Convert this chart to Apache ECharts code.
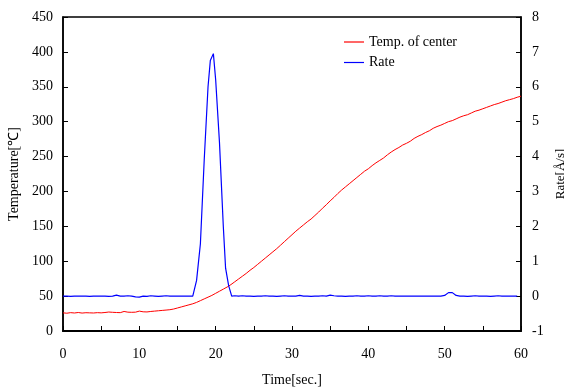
<!DOCTYPE html>
<html>
<head>
<meta charset="utf-8">
<script src="https://cdn.jsdelivr.net/npm/echarts@6/dist/echarts.min.js"></script>
<style>html,body{margin:0;padding:0;background:#fff}#c{width:564px;height:387px}</style>
</head>
<body>
<div id="c"></div>
<script>
const tempTime = [0,0.5,1,1.5,2,2.5,3,3.5,4,4.5,5,5.5,6,6.5,7,7.5,8,8.5,9,9.5,10,10.5,11,11.5,12,12.5,13,13.5,14,14.5,15,15.5,16,16.5,17,17.5,18,18.5,19,19.5,20,20.5,21,21.5,22,22.5,23,23.5,24,24.5,25,25.5,26,26.5,27,27.5,28,28.5,29,29.5,30,30.5,31,31.5,32,32.5,33,33.5,34,34.5,35,35.5,36,36.5,37,37.5,38,38.5,39,39.5,40,40.5,41,41.5,42,42.5,43,43.5,44,44.5,45,45.5,46,46.5,47,47.5,48,48.5,49,49.5,50,50.5,51,51.5,52,52.5,53,53.5,54,54.5,55,55.5,56,56.5,57,57.5,58,58.5,59,59.5,60];
const tempValue = [26.0,25.5,26.3,25.8,26.5,25.7,26.2,26.0,25.8,26.3,26.0,26.5,27.2,26.8,26.5,26.3,28.0,27.0,26.8,27.0,28.5,27.5,27.3,28.0,28.5,29.0,29.5,30.0,30.5,31.5,33.0,34.5,36.0,37.5,39.0,41.0,43.5,46.0,48.5,51.0,54.0,57.0,60.0,63.0,66.5,70.5,74.5,78.5,82.5,87.0,91.0,95.5,100.0,104.5,109.0,113.5,118.0,123.0,128.0,133.0,138.0,143.0,147.5,152.0,156.5,160.5,165.5,170.5,176.0,181.0,186.5,191.5,197.0,202.0,206.5,211.0,215.5,220.0,224.5,229.0,232.5,237.0,241.0,244.5,248.0,252.5,256.5,260.0,263.0,266.5,269.0,272.0,276.0,279.0,281.5,284.5,287.0,290.5,293.0,295.0,297.5,300.0,301.5,304.0,306.5,308.5,310.0,312.5,315.0,316.5,318.5,320.5,322.5,324.5,326.0,328.0,330.0,331.5,333.0,335.0,336.5];
const rateTime = [0,0.5,1,1.5,2,2.5,3,3.5,4,4.5,5,5.5,6,6.5,7,7.5,8,8.5,9,9.5,10,10.5,11,11.5,12,12.5,13,13.5,14,14.5,15,15.5,16,16.5,17,17.1,17.5,18,18.5,19,19.3,19.7,20,20.5,21,21.3,21.7,22.1,22.5,23,23.5,24,24.5,25,25.5,26,26.5,27,27.5,28,28.5,29,29.5,30,30.5,31,31.5,32,32.5,33,33.5,34,34.5,35,35.5,36,36.5,37,37.5,38,38.5,39,39.5,40,40.5,41,41.5,42,42.5,43,43.5,44,44.5,45,45.5,46,46.5,47,47.5,48,48.5,49,49.5,50,50.5,51,51.5,52,52.5,53,53.5,54,54.5,55,55.5,56,56.5,57,57.5,58,58.5,59,59.5,60];
const rateValue = [0.0,0.0,-0.01,0.0,0.0,0.0,0.0,-0.01,0.0,0.0,0.0,0.0,-0.01,0.0,0.03,0.0,0.0,0.01,0.0,-0.02,-0.03,0.0,-0.01,0.01,0.0,-0.01,0.0,0.01,0.0,0.0,0.0,0.0,0.0,0.0,0.0,-0.05,0.45,1.5,3.9,6.0,6.75,6.95,6.2,4.4,2.0,0.8,0.3,0.0,0.01,0.0,0.01,0.0,0.0,-0.01,0.0,0.0,0.01,0.0,0.0,-0.01,0.0,0.01,0.0,0.0,0.0,0.02,0.0,0.0,-0.01,0.0,0.0,0.01,0.0,0.03,0.01,0.0,0.0,-0.01,0.0,0.0,0.01,0.0,0.0,0.01,0.0,0.0,0.01,0.0,0.0,0.01,0.0,0.0,0.0,0.0,0.0,0.0,0.0,0.0,0.0,0.0,0.0,0.0,0.0,0.02,0.1,0.1,0.02,0.0,0.0,-0.01,0.0,0.01,0.0,0.0,0.0,-0.01,0.0,0.01,0.0,0.0,0.0,0.0,0.0];
const xTicks = {min:0, max:60, step:5};
const leftTicks = {min:0, max:450, step:50};
const rightTicks = {min:-1, max:8, step:1};

const font = 'Liberation Serif';
const zip = (a,b) => a.map((v,i) => [v,b[i]]);
const chart = echarts.init(document.getElementById('c'), null, {renderer:'canvas'});
const axisCommon = {
  axisLine:{show:true,onZero:false,lineStyle:{color:'#000',width:1.5}},
  axisTick:{show:true,inside:true,length:5,lineStyle:{color:'#000',width:1}},
  splitLine:{show:false},
  axisLabel:{color:'#000',fontFamily:font,fontSize:14,margin:10},
  nameTextStyle:{color:'#000',fontFamily:font,fontSize:14}
};
chart.setOption({
  animation:false,
  backgroundColor:'#fff',
  grid:{left:63,right:43,top:17,bottom:56,containLabel:false,outerBoundsMode:'none',show:true,borderColor:'#000',borderWidth:1.5,backgroundColor:'transparent'},
  legend:{
    orient:'vertical',left:339,top:30,itemWidth:20,itemHeight:1.2,itemGap:6.5,icon:'rect',
    textStyle:{color:'#000',fontFamily:font,fontSize:14},
    data:['Temp. of center','Rate']
  },
  xAxis:Object.assign({},axisCommon,{
    type:'value',min:xTicks.min,max:xTicks.max,interval:xTicks.step,
    name:'Time[sec.]',nameLocation:'middle',nameGap:42,
    axisLine:{show:true,onZero:false,lineStyle:{color:'#000',width:2}},
    axisLabel:Object.assign({},axisCommon.axisLabel,{margin:16,formatter:v => (v%10===0 ? String(v) : '')})
  }),
  yAxis:[
    Object.assign({},axisCommon,{
      type:'value',min:leftTicks.min,max:leftTicks.max,interval:leftTicks.step,position:'left',
      name:'Temperature[℃]',nameLocation:'middle',nameGap:38
    }),
    Object.assign({},axisCommon,{
      type:'value',min:rightTicks.min,max:rightTicks.max,interval:rightTicks.step,position:'right',
      name:'Rate[Å/s]',nameLocation:'middle',nameGap:29,nameRotate:90,
      nameTextStyle:{color:'#000',fontFamily:font,fontSize:13},
      axisLabel:Object.assign({},axisCommon.axisLabel,{margin:11})
    })
  ],
  series:[
    {name:'Temp. of center',type:'line',yAxisIndex:0,data:zip(tempTime,tempValue),showSymbol:false,symbol:'none',
     lineStyle:{color:'#ff0000',width:1},itemStyle:{color:'#ff0000'}},
    {name:'Rate',type:'line',yAxisIndex:1,data:zip(rateTime,rateValue),showSymbol:false,symbol:'none',
     lineStyle:{color:'#0000ff',width:1.2},itemStyle:{color:'#0000ff'}}
  ]
});
</script>
</body>
</html>
